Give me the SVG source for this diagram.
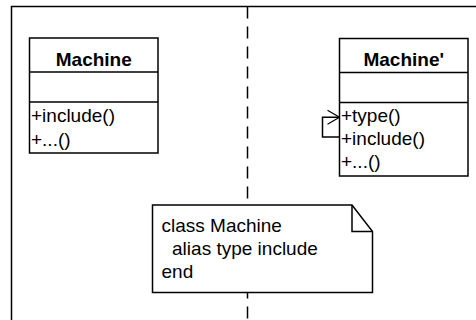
<svg xmlns="http://www.w3.org/2000/svg" width="476" height="320" viewBox="0 0 476 320">
<style>
.ln{fill:none;stroke:#000;stroke-width:1.5}
.box{fill:#fff;stroke:#000;stroke-width:1.5}
.t{font-family:"Liberation Sans",Arial,sans-serif;font-size:19px;fill:#000}
.b{font-weight:bold;text-anchor:middle}
</style>
<defs>
<marker id="open" markerWidth="14" markerHeight="16" refX="13" refY="8" orient="auto" markerUnits="userSpaceOnUse">
<path d="M1,1 L13,8 L1,15" fill="none" stroke="#000" stroke-width="1.2"/>
</marker>
</defs>
<rect x="11.5" y="6.5" width="520" height="400" class="ln"/>
<g id="connectors">
<line x1="247.5" y1="6.5" x2="247.5" y2="320" class="ln" stroke-dasharray="12 8"/>
<path d="M339.5,137 H322.5 V117.3 H339.5" class="ln" stroke-width="1.2" marker-end="url(#open)"/>
</g>
<g id="machine">
<rect x="29.5" y="38" width="128.5" height="115" class="box"/>
<line x1="29.5" y1="72" x2="158" y2="72" class="ln"/>
<line x1="29.5" y1="102" x2="158" y2="102" class="ln"/>
<text x="93.75" y="65.5" class="t b">Machine</text>
<text x="31" y="121.5" class="t">+include()</text>
<text x="31" y="145.5" class="t">+...()</text>
</g>
<g id="machine2">
<rect x="339.5" y="38.5" width="128.5" height="137.5" class="box"/>
<line x1="339.5" y1="72.5" x2="468" y2="72.5" class="ln"/>
<line x1="339.5" y1="102.5" x2="468" y2="102.5" class="ln"/>
<text x="403.75" y="65.5" class="t b">Machine'</text>
<text x="341" y="121.5" class="t">+type()</text>
<text x="341" y="144.5" class="t">+include()</text>
<text x="341" y="167.5" class="t">+...()</text>
</g>
<g id="note">
<path d="M152.5,205 H352 L372.5,231.5 V292.5 H152.5 Z" class="box"/>
<path d="M352,205 V231.5 H372.5" class="ln"/>
<text x="161.5" y="231.5" class="t">class Machine</text>
<text x="161.5" y="254.5" class="t" xml:space="preserve">  alias type include</text>
<text x="161.5" y="277.5" class="t">end</text>
</g>
</svg>
